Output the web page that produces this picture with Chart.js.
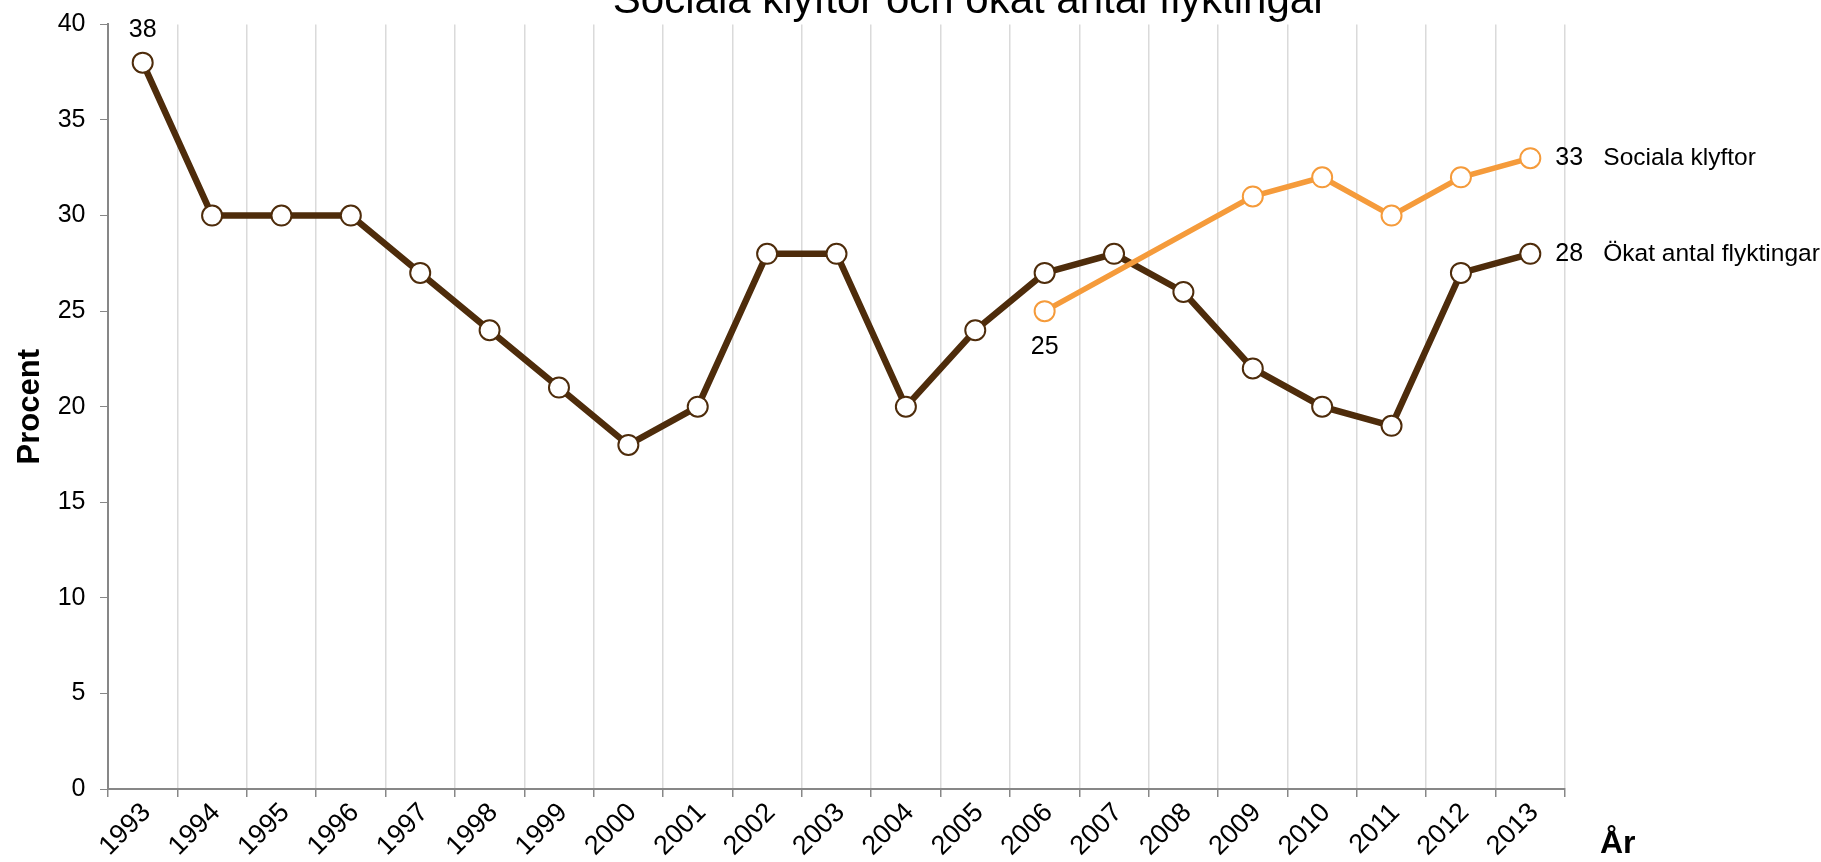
<!DOCTYPE html>
<html lang="sv">
<head>
    <meta charset="UTF-8">
    <title>Sociala klyftor och ökat antal flyktingar</title>
    <script src="https://cdn.jsdelivr.net/npm/chart.js"></script>
    <style>
        html, body { margin: 0; padding: 0; background: #fff; }
        canvas { display: block; }
    </style>
</head>
<body>
    <canvas id="chart" width="1821" height="862"></canvas>

    <script>
        // data
        const years = ['1993', '1994', '1995', '1996', '1997', '1998', '1999', '2000', '2001', '2002', '2003',
                       '2004', '2005', '2006', '2007', '2008', '2009', '2010', '2011', '2012', '2013'];
        const flyktingar = [38, 30, 30, 30, 27, 24, 21, 18, 20, 28, 28, 20, 24, 27, 28, 26, 22, 20, 19, 27, 28];
        const klyftor = [null, null, null, null, null, null, null, null, null, null, null, null, null,
                         25, null, null, 31, 32, 30, 32, 33];
        const seriesNames = ['Sociala klyftor', 'Ökat antal flyktingar'];
        const yTicks = [0, 5, 10, 15, 20, 25, 30, 35, 40];

        const FONT = '"Liberation Sans", Arial, sans-serif';
        const BROWN = '#4e2c0b';
        const ORANGE = '#f59b3b';

        // title, axis titles, value labels and series names
        const textPlugin = {
            id: 'texts',
            afterDatasetsDraw(chart) {
                const ctx = chart.ctx;
                ctx.save();
                ctx.fillStyle = '#000';

                ctx.font = '42px ' + FONT;
                ctx.textAlign = 'center';
                ctx.textBaseline = 'alphabetic';
                ctx.fillText('Sociala klyftor och ökat antal flyktingar', 970, 13);

                ctx.font = 'bold 31px ' + FONT;
                ctx.save();
                ctx.translate(30, (chart.chartArea.top + chart.chartArea.bottom) / 2);
                ctx.rotate(-Math.PI / 2);
                ctx.textBaseline = 'middle';
                ctx.fillText('Procent', 0, 0);
                ctx.restore();

                ctx.font = 'bold 32px ' + FONT;
                ctx.textAlign = 'left';
                ctx.fillText('År', 1600, 853);

                ctx.font = '25px ' + FONT;
                ctx.textBaseline = 'middle';
                const orange = chart.getDatasetMeta(0).data;
                const brown = chart.getDatasetMeta(1).data;

                const first = brown[0];
                ctx.textAlign = 'center';
                ctx.fillText(String(flyktingar[0]), first.x, first.y - 33);

                const startIdx = klyftor.findIndex(v => v !== null);
                const s = orange[startIdx];
                ctx.fillText(String(klyftor[startIdx]), s.x, s.y + 36);

                const last = years.length - 1;
                ctx.textAlign = 'left';
                ctx.fillText(String(klyftor[last]), orange[last].x + 25, orange[last].y);
                ctx.fillText(String(flyktingar[last]), brown[last].x + 25, brown[last].y);
                ctx.font = '24.5px ' + FONT;
                ctx.fillText(seriesNames[0], orange[last].x + 73, orange[last].y);
                ctx.fillText(seriesNames[1], brown[last].x + 73, brown[last].y);
                ctx.restore();
            }
        };

        const ctx = document.getElementById('chart').getContext('2d');
        new Chart(ctx, {
            type: 'line',
            data: {
                labels: years,
                datasets: [{
                    label: seriesNames[0],
                    data: klyftor,
                    borderColor: ORANGE,
                    borderWidth: 5.5,
                    pointRadius: 10,
                    pointBorderWidth: 2,
                    pointBackgroundColor: '#fff',
                    pointBorderColor: ORANGE,
                    spanGaps: true,
                    tension: 0
                }, {
                    label: seriesNames[1],
                    data: flyktingar,
                    borderColor: BROWN,
                    borderWidth: 6.5,
                    pointRadius: 10,
                    pointBorderWidth: 2,
                    pointBackgroundColor: '#fff',
                    pointBorderColor: BROWN,
                    tension: 0
                }]
            },
            options: {
                responsive: false,
                animation: false,
                layout: { padding: { top: 24.4, right: 256, bottom: 0, left: 0 } },
                plugins: {
                    legend: { display: false },
                    tooltip: { enabled: false }
                },
                scales: {
                    x: {
                        offset: true,
                        grid: {
                            offset: true,
                            color: '#dadada',
                            lineWidth: 1.5,
                            tickColor: '#878787',
                            tickLength: 8
                        },
                        border: { color: '#878787', width: 2 },
                        ticks: {
                            color: '#000',
                            font: { family: FONT, size: 27 },
                            minRotation: 45,
                            maxRotation: 45,
                            padding: 0,
                            labelOffset: 4,
                            autoSkip: false
                        },
                        afterFit(scale) { scale.height = 73; }
                    },
                    y: {
                        min: 0,
                        max: 40,
                        afterBuildTicks(scale) { scale.ticks = yTicks.map(v => ({ value: v })); },
                        grid: {
                            drawOnChartArea: false,
                            tickColor: '#878787',
                            tickLength: 8
                        },
                        border: { color: '#878787', width: 2 },
                        ticks: {
                            color: '#000',
                            font: { family: FONT, size: 25 },
                            padding: 14.5
                        },
                        afterFit(scale) {
                            scale.width = 108;
                            scale.paddingTop = 0;
                            scale.paddingBottom = 0;
                        }
                    }
                }
            },
            plugins: [textPlugin]
        });
    </script>
</body>
</html>
